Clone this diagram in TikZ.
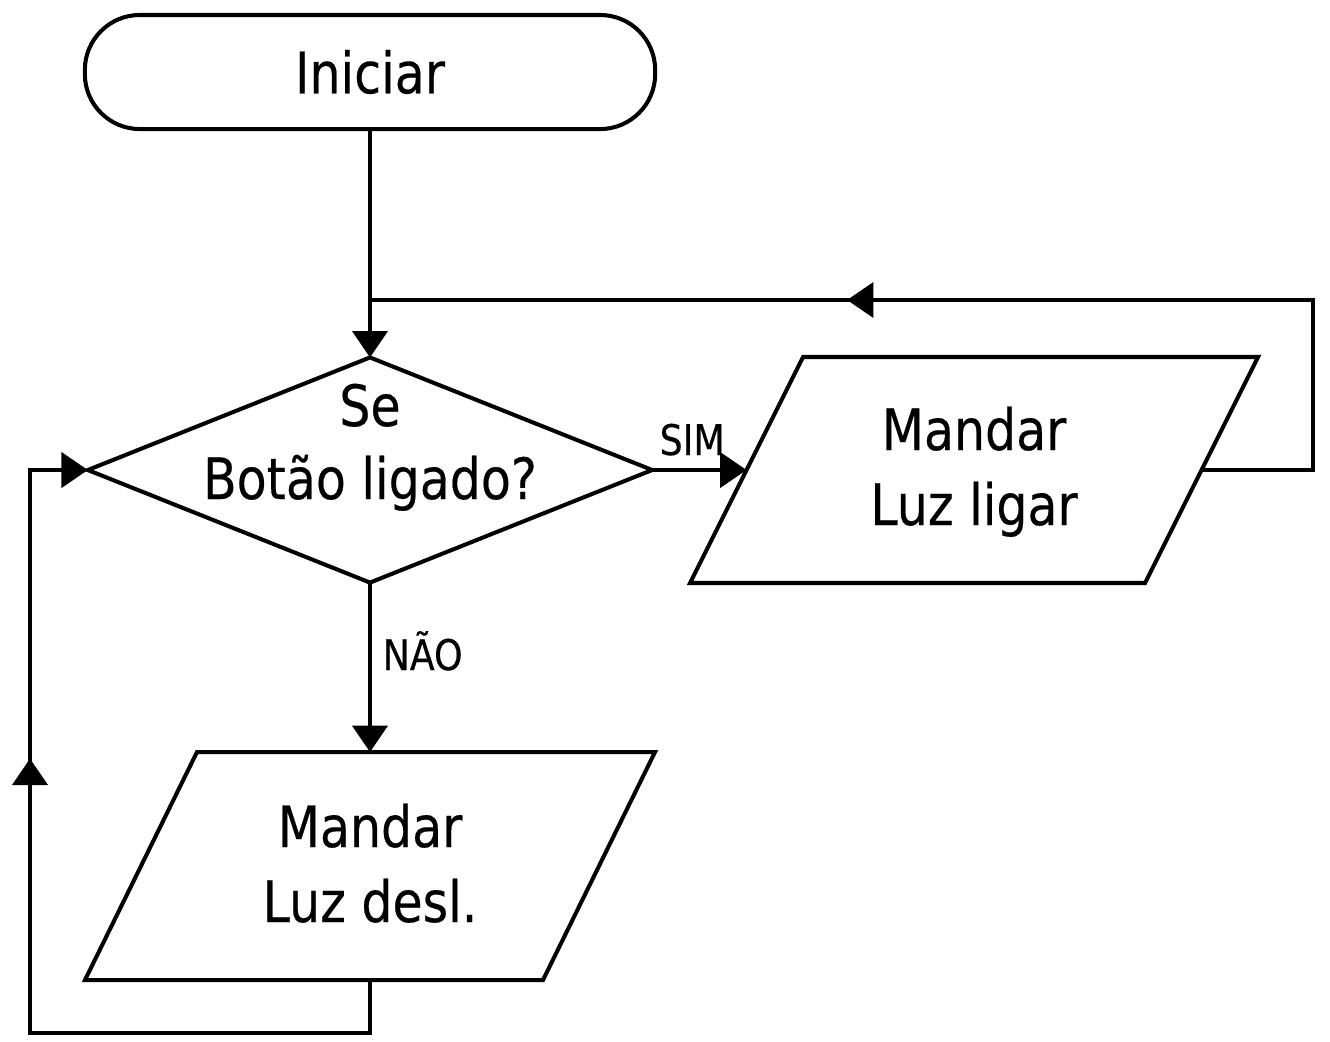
\documentclass[tikz,border=0pt]{standalone}
\usepackage{fontspec}
\setmainfont{DejaVu Sans}[FakeStretch=0.86, FakeBold=0.35]
\usetikzlibrary{shapes.geometric,arrows.meta,decorations.markings}
\tikzset{
  boxline/.style={draw=black, line width=1.15pt, inner sep=0pt, outer sep=0pt, line join=miter},
  termbox/.style={boxline, rectangle, rounded corners=0.55cm, minimum width=5.7cm, minimum height=1.14cm, font=\fontsize{16.2pt}{21pt}\selectfont},
  decbox/.style={boxline, diamond, minimum width=5.64cm, minimum height=2.25cm},
  txt/.style={font=\fontsize{16.2pt}{21pt}\selectfont, inner sep=0pt, anchor=base},
  lbl/.style={font=\fontsize{12pt}{14pt}\selectfont, inner sep=0pt, anchor=base west},
  tip/.style={-{Triangle[length=7.5pt,width=10pt]}},
  conn/.style={line width=1pt, line join=miter},
  midtip/.style={postaction={decorate, decoration={markings, mark=at position #1 with {\arrow{Triangle[length=7.5pt,width=10pt]}}}}}
}
\begin{document}
\begin{tikzpicture}[x=0.01cm, y=-0.01cm]
\useasboundingbox (0,0) rectangle (1330,1041);

% shapes
\node[termbox] (start) at (370,72) {Iniciar};
\node[decbox] (dec) at (370,470) {};

% output box 1 (Mandar Luz ligar)
\coordinate (p1tl) at (803,357);
\coordinate (p1tr) at (1258,357);
\coordinate (p1br) at (1145,583);
\coordinate (p1bl) at (690,583);
\coordinate (p1w) at (746.5,470);
\coordinate (p1e) at (1201.5,470);
\draw[boxline] (p1tl) -- (p1tr) -- (p1br) -- (p1bl) -- cycle;

% output box 2 (Mandar Luz desl.)
\coordinate (p2tl) at (197,752);
\coordinate (p2tr) at (655,752);
\coordinate (p2br) at (543,980);
\coordinate (p2bl) at (85,980);
\coordinate (p2n) at (370,752);
\coordinate (p2s) at (370,980);
\draw[boxline] (p2tl) -- (p2tr) -- (p2br) -- (p2bl) -- cycle;

% texts
\node[txt] (t1) at (370,426) {Se};
\node[txt] (t2) at (370,499) {Botão ligado?};
\node[txt] (t3) at (974,450) {Mandar};
\node[txt] (t4) at (974,525) {Luz ligar};
\node[txt] (t5) at (370,847) {Mandar};
\node[txt] (t6) at (370,922) {Luz desl.};
\node[lbl] (sim) at (659,455) {SIM};
\node[lbl] (nao) at (382,670) {NÃO};

% junction / corner coordinates
\coordinate (j1) at (370,300);
\coordinate (rt) at (1313,300);
\coordinate (lb) at (30,1033);
\coordinate (lt) at (30,470);

% connectors
\draw[conn, tip] (start.south) -- (dec.north);
\draw[conn, tip] (dec.east) -- (p1w);
\draw[conn, tip] (dec.south) -- (p2n);
\draw[conn, midtip=7.47cm] (p1e) -| (rt) -- (j1);
\draw[conn, tip, midtip=6.67cm] (p2s) |- (lb) -- (lt) -- (dec.west);
\end{tikzpicture}
\end{document}
